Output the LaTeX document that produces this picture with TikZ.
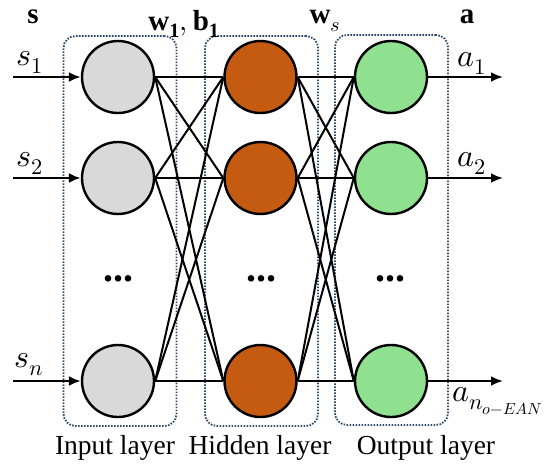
\documentclass[tikz,border=0pt]{standalone}
\usepackage{fontspec}
\usepackage{unicode-math}
\setmainfont{Liberation Serif}
\setmathfont{Latin Modern Math}
\usetikzlibrary{arrows.meta}
\definecolor{inputgray}{HTML}{D9D9D9}
\definecolor{hiddenorange}{HTML}{C55A11}
\definecolor{outgreen}{HTML}{8FE08F}
\definecolor{boxblue}{HTML}{2E4A66}
\begin{document}
\begin{tikzpicture}[x=1pt,y=-1pt,
  neuron/.style={circle,draw=black,line width=2.4pt,minimum size=72pt,inner sep=0pt},
  inp/.style={neuron,fill=inputgray},
  hid/.style={neuron,fill=hiddenorange},
  outn/.style={neuron,fill=outgreen},
  conn/.style={line width=2pt},
  io/.style={line width=2.8pt,-{Latex[length=12pt,width=10pt]}},
  layerbox/.style={draw=boxblue,line width=1.8pt,dash pattern=on 1.6pt off 1.4pt,rounded corners=12pt,minimum width=113pt,minimum height=390pt,inner sep=0pt},
  lbl/.style={font=\fontsize{32}{36}\selectfont},
  hdr/.style={font=\fontsize{29}{32}\selectfont},
  captxt/.style={font=\fontsize{27.5}{30}\selectfont},
  dotsl/.style={font=\fontsize{40}{40}\selectfont\bfseries},
]
\useasboundingbox (0,0) rectangle (550,474);

% layer boxes
\node[layerbox] (inbox) at (120,231) {};
\node[layerbox] (hidbox) at (261.5,231) {};
\node[layerbox] (outbox) at (391.5,230) {};

% neurons
\node[inp] (i1) at (118,77) {};
\node[inp] (i2) at (118,178) {};
\node[inp] (in) at (118,381) {};
\node[hid] (h1) at (260.5,77) {};
\node[hid] (h2) at (260.5,178) {};
\node[hid] (hn) at (260.5,381) {};
\node[outn] (o1) at (391,77) {};
\node[outn] (o2) at (391,178) {};
\node[outn] (on) at (391,381) {};

% connections
\foreach \a in {i1,i2,in}{
  \foreach \b in {h1,h2,hn}{
    \draw[conn] (\a.east) -- (\b.west);
  }
}
\foreach \a in {h1,h2,hn}{
  \foreach \b in {o1,o2,on}{
    \draw[conn] (\a.east) -- (\b.west);
  }
}

% input / output arrows
\coordinate (s1s) at (13,77);
\coordinate (s2s) at (13,178);
\coordinate (sns) at (13,381);
\coordinate (a1e) at (503,77);
\coordinate (a2e) at (503,178);
\coordinate (ane) at (503,381);
\draw[io] (s1s) -- (i1.west);
\draw[io] (s2s) -- (i2.west);
\draw[io] (sns) -- (in.west);
\draw[io] (o1.east) -- (a1e);
\draw[io] (o2.east) -- (a2e);
\draw[io] (on.east) -- (ane);

% labels
\node[lbl] (ls1) at (30,62) {$s_1$};
\node[lbl] (ls2) at (30,163) {$s_2$};
\node[lbl] (lsn) at (29,365) {$s_n$};
\node[lbl] (la1) at (472,63) {$a_1$};
\node[lbl] (la2) at (472,163) {$a_2$};
\node[lbl] (lan) at (498,401) {$a_{n_{o-EAN}}$};

\node[hdr] (hs) at (33,17) {$\mathbf{s}$};
\node[hdr] (hw) at (184,24) {$\mathbf{w}_{\mathbf{1}},\mathbf{b}_{\mathbf{1}}$};
\node[hdr] (hws) at (325,21) {$\mathbf{w}_{s}$};
\node[hdr] (ha) at (467,17) {$\mathbf{a}$};

% dots
\node[dotsl] (d1) at (118,279) {...};
\node[dotsl] (d2) at (261,279) {...};
\node[dotsl] (d3) at (390,279) {...};

% captions
\node[captxt] (c1) at (115,448) {Input layer};
\node[captxt] (c2) at (260,448) {Hidden layer};
\node[captxt] (c3) at (426,448) {Output layer};
\end{tikzpicture}
\end{document}
